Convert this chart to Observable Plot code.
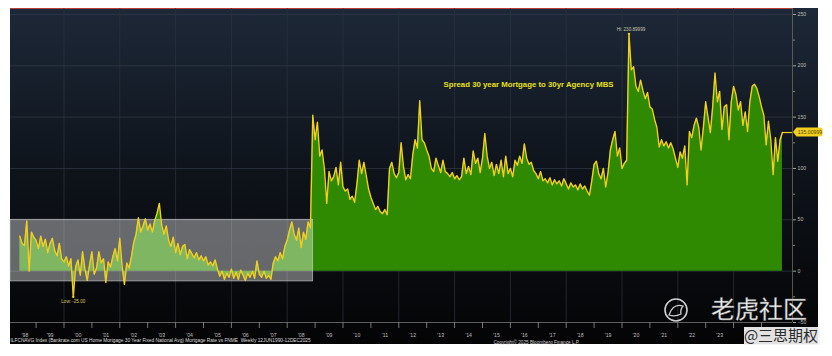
<!DOCTYPE html>
<html><head><meta charset="utf-8">
<script src="https://cdn.jsdelivr.net/npm/d3@7"></script>
<script src="https://cdn.jsdelivr.net/npm/@observablehq/plot@0.6"></script>
<style>
html,body{margin:0;padding:0;background:#fff;}
#chart{width:832px;height:356px;overflow:hidden;}
</style></head><body><div id="chart"></div>
<script>
// Monthly readings of the spread (bp), June 1998 .. October 2025
const startYear = 1998, startMonth = 6;
const spread = [
  34, 27, 25, 49, 0, 38, 33,
  30, 22, 34, 24, 31, 18, 27, 32, 20, 15, 27, 12,
  9, 14, 5, 12, -25, 4, 11, -4, 19, 2, -9, 6,
  19, -3, 3, 19, 8, 12, -11, 9, 4, 14, 22, 10,
  32, 5, -13, 8, 3, 14, 28, 36, 52, 38, 44, 51,
  40, 46, 38, 49, 56, 66, 45, 36, 44, 30, 24, 33,
  18, 27, 16, 24, 26, 12, 21, 17, 13, 18, 11, 15,
  10, 14, 6, 9, 5, 11, 2, -5, 0, -8, -2, -6,
  2, -7, -1, -8, 1, -4, -9, -2, -6, 0, -7, 10,
  -3, -6, 0, -7, -4, -8, 8, 14, 10, 18, 12, 24,
  30, 40, 48, 36, 30, 42, 23, 38, 31, 48, 42, 152,
  128, 145, 112, 118, 100, 66, 97, 88, 92, 101, 84, 106,
  82, 78, 80, 70, 73, 67, 85, 108, 95, 106, 93, 80,
  72, 66, 60, 63, 58, 56, 60, 55, 100, 106, 95, 91,
  96, 125, 102, 89, 94, 90, 113, 128, 120, 166, 128, 125,
  118, 112, 100, 97, 110, 103, 96, 108, 97, 95, 92, 96,
  90, 93, 89, 92, 110, 95, 102, 94, 117, 105, 110, 96,
  110, 134, 112, 100, 106, 93, 104, 95, 108, 92, 112, 95,
  100, 92, 108, 103, 112, 105, 124, 110, 104, 106, 98, 95,
  90, 97, 88, 90, 86, 91, 84, 89, 85, 88, 83, 90,
  85, 80, 86, 82, 84, 79, 85, 80, 83, 78, 74, 88,
  104, 107, 95, 90, 100, 82, 96, 118, 128, 136, 112, 120,
  100, 105, 108, 230.89999, 196, 199, 180, 175, 186, 176, 168, 174,
  160, 158, 148, 140, 121, 128, 122, 126, 120, 125, 119, 110,
  101, 116, 110, 122, 84, 136, 130, 142, 149, 140, 118, 140,
  165, 150, 135, 160, 193, 165, 175, 138, 160, 162, 128, 165,
  180, 172, 157, 165, 142, 155, 136, 165, 180, 182, 178, 170,
  160, 152, 123, 146, 128, 94, 130, 107, 128, 135.00999
];
const yearLabels = ["'98","'99","'00","'01","'02","'03","'04","'05","'06","'07","'08","'09","'10","'11","'12","'13","'14","'15","'16","'17","'18","'19","'20","'21","'22","'23","'24","'25"];
const yearLabelAt = [1998.6,1999.5,2000.5,2001.5,2002.5,2003.5,2004.5,2005.5,2006.5,2007.5,2008.5,2009.5,2010.5,2011.5,2012.5,2013.5,2014.5,2015.5,2016.5,2017.5,2018.5,2019.5,2020.5,2021.5,2022.5,2023.5,2024.5,2025.5];
const yearTicks = [1999,2000,2001,2002,2003,2004,2005,2006,2007,2008,2009,2010,2011,2012,2013,2014,2015,2016,2017,2018,2019,2020,2021,2022,2023,2024,2025];
const gridYears = [2000,2002,2004,2006,2008,2010,2012,2014,2016,2018,2020,2022,2024];
const yTicks = [-50,0,50,100,150,200,250];
const yMinorTicks = [-25,25,75,125,175,225];
const gridValues = [0,50,100,150,200,250];
const highlightBox = [{x1: 1998.08, x2: 2008.93, y1: -10, y2: 50}];
const titleText = "Spread 30 year Mortgage to 30yr Agency MBS";
const captionText = "ILFCNAVG Index (Bankrate.com US Home Mortgage 30 Year Fixed National Avg) Mortgage Rate vs FNME  Weekly 12JUN1990-12DEC2025";
const copyrightText = "Copyright\u00a9 2025 Bloomberg Finance L.P.";
const hiText = "Hi: 230.89999";
const loText = "Low: -25.00";
const lastValue = 135.00999;

const data = spread.map((v, i) => ({t: startYear + (startMonth - 1 + i) / 12, v}));
const hiPt = data.reduce((a, b) => b.v > a.v ? b : a);
const loPt = data.reduce((a, b) => b.v < a.v ? b : a);
const lastPt = data[data.length - 1];
const xDomain = [1998.0824, 2026.1111];
const yDomain = [-50, 255.8];

const FONT = "'Liberation Sans', Arial, sans-serif";
const YELLOW = "#f2cf1f";

function panel(index, scales, values, dims) {
  const g = d3.create("svg:g");
  const grad = g.append("defs").append("linearGradient").attr("id", "bgGrad")
    .attr("x1", 0).attr("x2", 0).attr("y1", 0).attr("y2", 1);
  grad.append("stop").attr("offset", "0%").attr("stop-color", "#1d2838");
  grad.append("stop").attr("offset", "50%").attr("stop-color", "#0e131a");
  grad.append("stop").attr("offset", "100%").attr("stop-color", "#040405");
  const x0 = dims.marginLeft, y0 = dims.marginTop;
  g.append("rect").attr("x", x0).attr("y", y0)
    .attr("width", dims.width - x0 - 14).attr("height", dims.height - y0 - 12)
    .attr("fill", "url(#bgGrad)");
  g.append("line").attr("x1", x0).attr("x2", dims.width - dims.marginRight)
    .attr("y1", y0 + 0.5).attr("y2", y0 + 0.5).attr("stroke", "#b8403a").attr("stroke-width", 1.2);
  return g.node();
}

function lastLabel(index, {x, y}) {
  const g = d3.create("svg:g");
  const px = x(xDomain[1]) + 1, py = y(lastValue);
  g.append("path").attr("d", `M${px} ${py} l3.5 -4.5 h24 q2 0 2 2 v5 q0 2 -2 2 h-24 z`).attr("fill", YELLOW);
  g.append("text").attr("x", px + 17).attr("y", py).attr("dy", "0.35em")
    .attr("text-anchor", "middle").attr("font-size", 5.2).attr("font-family", FONT)
    .attr("fill", "#5b4800").text(lastValue.toFixed(5));
  return g.node();
}

function watermark(index, scales, values, dims) {
  const g = d3.create("svg:g");
  g.append("circle").attr("cx", 676).attr("cy", 310).attr("r", 11)
    .attr("fill", "none").attr("stroke", "#e4e4e4").attr("stroke-width", 1.6).attr("opacity", 0.9);
  g.append("path").attr("d", "M669 315 q4 -12 14 -9 q-3 4 -2 8 q-6 3 -12 1 z")
    .attr("fill", "none").attr("stroke", "#e4e4e4").attr("stroke-width", 1.3).attr("opacity", 0.9);
  g.append("text").attr("x", 759).attr("y", 309).attr("dy", "0.36em").attr("text-anchor", "middle")
    .attr("font-size", 24).attr("font-family", "'Noto Sans CJK SC', sans-serif")
    .attr("fill", "#f2f2f2").attr("stroke", "#777").attr("stroke-width", 0.4).text("老虎社区");
  g.append("rect").attr("x", 744).attr("y", 327).attr("width", 76).attr("height", 18)
    .attr("fill", "#f4f4f4").attr("opacity", 0.92);
  g.append("text").attr("x", 781).attr("y", 336).attr("dy", "0.36em").attr("text-anchor", "middle")
    .attr("font-size", 15).attr("font-family", "'Noto Sans CJK SC', sans-serif")
    .attr("fill", "#2a2a2a").text("@三思期权");
  return g.node();
}

const chart = Plot.plot({
  width: 832,
  height: 356,
  marginLeft: 10,
  marginRight: 40,
  marginTop: 8,
  marginBottom: 34,
  style: {fontFamily: FONT, background: "#fff"},
  x: {type: "linear", domain: xDomain, axis: null},
  y: {domain: yDomain, axis: null},
  marks: [
    panel,
    Plot.ruleY(gridValues, {stroke: "#333b48", strokeWidth: 0.7}),
    Plot.ruleX(gridYears, {y1: -50, y2: yDomain[1], stroke: "#2c333e", strokeWidth: 0.7}),
    Plot.areaY(data, {x: "t", y: "v", fill: "#2f8a02", curve: "linear"}),
    Plot.rect(highlightBox, {x1: "x1", x2: "x2", y1: "y1", y2: "y2", fill: "#ffffff", fillOpacity: 0.38, stroke: "#d8d8d8", strokeOpacity: 0.7, strokeWidth: 0.8}),
    Plot.lineY(data, {x: "t", y: "v", stroke: YELLOW, strokeWidth: 1.4, curve: "linear"}),
    Plot.ruleY([lastValue], {x1: lastPt.t, x2: xDomain[1], stroke: YELLOW, strokeWidth: 1.2}),
    // right axis
    Plot.ruleX([xDomain[1]], {y1: -50, y2: yDomain[1], stroke: "#6d6a55", strokeWidth: 0.8}),
    Plot.axisY({anchor: "right", ticks: yTicks, tickSize: 3, tickPadding: 2, fontSize: 5.2, stroke: "#a8a590", color: "#bdbdb0"}),
    Plot.axisY({anchor: "right", ticks: yMinorTicks, tickSize: 2, tickFormat: () => "", stroke: "#8a8770"}),
    // bottom axis
    Plot.ruleY([-50], {stroke: "#5c5c5c", strokeWidth: 1}),
    Plot.axisX({anchor: "bottom", ticks: yearTicks, tickSize: 6, tickFormat: () => "", stroke: "#777"}),
    Plot.axisX({anchor: "bottom", ticks: yearLabelAt, tickSize: 0, tickPadding: 11, fontSize: 5.2, color: "#bdbdbd", tickFormat: (d, i) => yearLabels[i]}),
    // annotations
    Plot.text([titleText], {x: [2016.65], y: [182], fill: "#e6e01a", fontSize: 7.8, fontWeight: "bold"}),
    Plot.dot([hiPt], {x: "t", y: "v", r: 1.2, fill: YELLOW}),
    Plot.text([hiPt], {x: "t", y: "v", text: () => hiText, dy: -5, dx: 2, fontSize: 4.6, fill: "#c9c6a8"}),
    Plot.dot([loPt], {x: "t", y: "v", r: 1.2, fill: YELLOW}),
    Plot.text([loPt], {x: "t", y: "v", text: () => loText, dy: 5, fontSize: 4.6, fill: "#d8c060"}),
    lastLabel,
    Plot.text([captionText], {frameAnchor: "bottom-left", dy: 19, textAnchor: "start", fontSize: 4.8, fill: "#dcdcdc"}),
    Plot.text([copyrightText], {frameAnchor: "bottom", dx: 135, dy: 21, fontSize: 4.7, fill: "#cfcfcf"}),
    watermark
  ]
});
document.getElementById("chart").appendChild(chart);
</script>
</body></html>
